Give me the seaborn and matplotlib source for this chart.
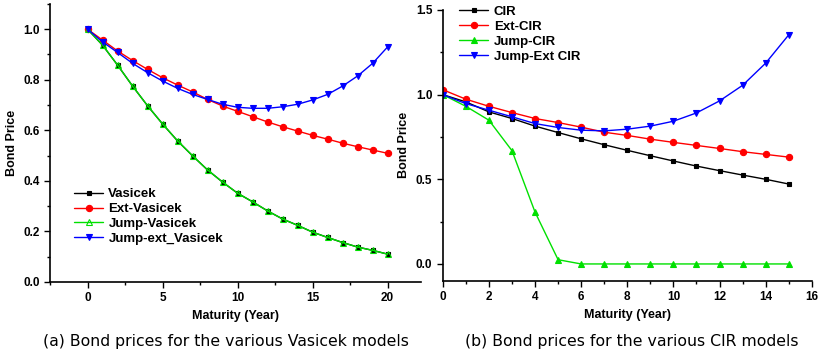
import matplotlib
matplotlib.use("Agg")
import matplotlib.pyplot as plt
from matplotlib.ticker import MultipleLocator
import seaborn as sns
import pandas as pd
import numpy as np

sns.set_style("ticks", {"axes.edgecolor": "black", "xtick.color": "black",
                        "ytick.color": "black", "text.color": "black",
                        "axes.labelcolor": "black"})
plt.rcParams['font.family'] = ['Liberation Sans', 'DejaVu Sans']

# ---- data: Vasicek models (a) ----
vas_years = list(range(0, 21))
vasicek = [1.0, 0.937, 0.858, 0.775, 0.697, 0.625, 0.558, 0.499, 0.443, 0.395,
           0.351, 0.317, 0.281, 0.249, 0.224, 0.197, 0.176, 0.156, 0.138, 0.125, 0.110]
ext_vasicek = [1.0, 0.957, 0.914, 0.876, 0.841, 0.808, 0.779, 0.752, 0.722, 0.696,
               0.675, 0.654, 0.633, 0.614, 0.597, 0.580, 0.565, 0.549, 0.535, 0.522, 0.509]
jump_vasicek = [1.0, 0.937, 0.858, 0.775, 0.697, 0.625, 0.558, 0.499, 0.443, 0.395,
                0.351, 0.317, 0.281, 0.249, 0.224, 0.197, 0.176, 0.156, 0.138, 0.125, 0.110]
jump_ext_vasicek = [1.0, 0.950, 0.908, 0.865, 0.828, 0.795, 0.766, 0.742, 0.722, 0.703,
                    0.691, 0.687, 0.687, 0.693, 0.703, 0.720, 0.742, 0.775, 0.815, 0.865, 0.930]

# ---- data: CIR models (b) ----
cir_years = list(range(0, 16))
cir = [1.0, 0.957, 0.898, 0.859, 0.814, 0.776, 0.739, 0.704, 0.671, 0.639,
       0.608, 0.578, 0.551, 0.525, 0.500, 0.472]
ext_cir = [1.029, 0.973, 0.931, 0.894, 0.859, 0.835, 0.808, 0.778, 0.759, 0.737,
           0.718, 0.700, 0.682, 0.663, 0.647, 0.631]
jump_cir = [1.0, 0.931, 0.849, 0.669, 0.306, 0.025, 0.0, 0.0, 0.0, 0.0,
            0.0, 0.0, 0.0, 0.0, 0.0, 0.0]
jump_ext_cir = [1.0, 0.947, 0.908, 0.869, 0.829, 0.806, 0.790, 0.786, 0.796, 0.814,
                0.843, 0.892, 0.963, 1.055, 1.186, 1.353]

BLACK, RED, GREEN, BLUE = "#000000", "#ff0000", "#00e000", "#0000ff"


def draw_series(ax, x, y, label, color, marker, ms, mfc=None):
    sns.lineplot(x=x, y=y, ax=ax, color=color, marker=marker, markersize=ms,
                 markerfacecolor=mfc if mfc else color, markeredgecolor=color,
                 markeredgewidth=0.8, linewidth=1.0, label=label)


def style_axis(ax):
    sns.despine(ax=ax)
    ax.tick_params(direction="out", length=4, width=1, labelsize=8.5)
    ax.tick_params(which="minor", direction="out", length=2.5, width=1)
    for lab in ax.get_xticklabels() + ax.get_yticklabels():
        lab.set_fontweight("bold")
    for sp in ax.spines.values():
        sp.set_linewidth(1.2)
    ax.set_xlabel("Maturity (Year)", fontsize=9, fontweight="bold")
    ax.set_ylabel("Bond Price", fontsize=9, fontweight="bold")


fig = plt.figure(figsize=(8.2, 3.56), dpi=100)
ax1 = fig.add_axes([0.061, 0.208, 0.452, 0.781])
ax2 = fig.add_axes([0.540, 0.211, 0.450, 0.761])

# (a) Vasicek
draw_series(ax1, vas_years, vasicek, "Vasicek", BLACK, "s", 3.5)
draw_series(ax1, vas_years, ext_vasicek, "Ext-Vasicek", RED, "o", 4.5)
draw_series(ax1, vas_years, jump_vasicek, "Jump-Vasicek", GREEN, "^", 4.0, mfc="none")
draw_series(ax1, vas_years, jump_ext_vasicek, "Jump-ext_Vasicek", BLUE, "v", 5.0)
ax1.set_xlim(-2.5, 22.2)
ax1.set_ylim(0, 1.1)
ax1.set_xticks([0, 5, 10, 15, 20])
ax1.set_yticks([0.0, 0.2, 0.4, 0.6, 0.8, 1.0])
ax1.xaxis.set_minor_locator(MultipleLocator(2.5))
ax1.yaxis.set_minor_locator(MultipleLocator(0.1))
style_axis(ax1)
ax1.legend(loc="lower left", bbox_to_anchor=(0.04, 0.1), frameon=False,
           prop={"weight": "bold", "size": 9.5}, handlelength=2.2, handletextpad=0.4,
           labelspacing=0.2, borderpad=0.2)

# (b) CIR
draw_series(ax2, cir_years, cir, "CIR", BLACK, "s", 3.5)
draw_series(ax2, cir_years, ext_cir, "Ext-CIR", RED, "o", 4.5)
draw_series(ax2, cir_years, jump_cir, "Jump-CIR", GREEN, "^", 5.0)
draw_series(ax2, cir_years, jump_ext_cir, "Jump-Ext CIR", BLUE, "v", 5.0)
ax2.set_xlim(0, 16)
ax2.set_ylim(-0.1, 1.5)
ax2.set_xticks(np.arange(0, 17, 2))
ax2.set_yticks([0.0, 0.5, 1.0, 1.5])
ax2.xaxis.set_minor_locator(MultipleLocator(1))
ax2.yaxis.set_minor_locator(MultipleLocator(0.25))
style_axis(ax2)
ax2.legend(loc="upper left", bbox_to_anchor=(0.02, 1.05), frameon=False,
           prop={"weight": "bold", "size": 9.5}, handlelength=2.2, handletextpad=0.4,
           labelspacing=0.2, borderpad=0.2)

fig.text(0.276, 0.04, "(a) Bond prices for the various Vasicek models",
         ha="center", va="center", fontsize=11.3, color="black",
         family=["DejaVu Sans"])
fig.text(0.770, 0.04, "(b) Bond prices for the various CIR models",
         ha="center", va="center", fontsize=11.3, color="black",
         family=["DejaVu Sans"])

fig.savefig("out.png", dpi=100)
